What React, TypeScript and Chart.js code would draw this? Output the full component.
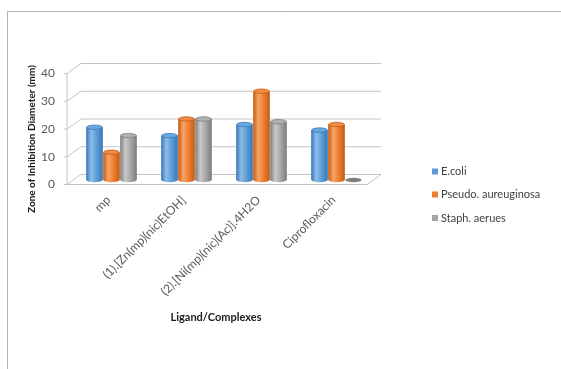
import { useEffect, useRef } from "react";
import { Chart, registerables } from "chart.js";

Chart.register(...registerables);

// ---- data ----
const categories = [
  "mp",
  "(1).[Zn(mp)(nic)EtOH]",
  "(2).[Ni(mp)(nic)(Ac)].4H2O",
  "Ciprofloxacin",
];
const seriesNames = ["E.coli", "Pseudo. aureuginosa", "Staph. aerues"];
const eColi = [19, 16, 20, 18];
const pseudo = [10, 22, 32, 20];
const staph = [16, 22, 21, 0];
const yTickValues = [0, 10, 20, 30, 40];
const xTitle = "Ligand/Complexes";
const yTitle = "Zone of Inhibition Diameter (mm)";

// ---- styling ----
const FONT = "Lato, 'Liberation Sans', sans-serif";
const GRID = "#c4c4c4";
// base, highlight, shade for each cylinder series
const palettes = [
  { base: "#5b9bd5", light: "#8dbdea", dark: "#3a78b5", top: "#6aa8e0" },
  { base: "#ed7d31", light: "#f7a467", dark: "#c45b14", top: "#f08b45" },
  { base: "#a5a5a5", light: "#c9c9c9", dark: "#7d7d7d", top: "#b2b2b2" },
];
// depth offsets of the front and back planes relative to the bar plane
const FRONT = { dx: -7, dy: 4.5 };
const BACK = { dx: 7, dy: -5.5 };

const wallsPlugin = {
  id: "walls3d",
  beforeDatasetsDraw(chart: any) {
    const { ctx, chartArea } = chart;
    const y = chart.scales.y;
    const { left, right } = chartArea;
    ctx.save();
    ctx.strokeStyle = GRID;
    ctx.lineWidth = 1;
    ctx.beginPath();
    for (const v of yTickValues) {
      const py = y.getPixelForValue(v);
      // back wall gridline
      ctx.moveTo(left + BACK.dx, py + BACK.dy);
      ctx.lineTo(right + BACK.dx, py + BACK.dy);
      // side wall connector
      ctx.moveTo(left + FRONT.dx - 3, py + FRONT.dy);
      ctx.lineTo(left + FRONT.dx, py + FRONT.dy);
      ctx.lineTo(left + BACK.dx, py + BACK.dy);
    }
    // front vertical axis
    const topY = y.getPixelForValue(40);
    const baseY = y.getPixelForValue(0);
    ctx.moveTo(left + FRONT.dx, topY + FRONT.dy);
    ctx.lineTo(left + FRONT.dx, baseY + FRONT.dy);
    // floor outline
    ctx.moveTo(left + FRONT.dx, baseY + FRONT.dy);
    ctx.lineTo(right + FRONT.dx, baseY + FRONT.dy);
    ctx.lineTo(right + BACK.dx, baseY + BACK.dy);
    ctx.stroke();
    ctx.restore();
  },
  afterDatasetsDraw(chart: any) {
    const { ctx } = chart;
    chart.data.datasets.forEach((ds: any, di: number) => {
      const meta = chart.getDatasetMeta(di);
      const p = palettes[di];
      meta.data.forEach((bar: any) => {
        const { x, y, base, width } = bar.getProps(["x", "y", "base", "width"], true);
        const l = x - width / 2;
        const rx = width / 2;
        const ry = 2.2;
        ctx.save();
        if (Math.abs(base - y) < 0.5) {
          // zero value: flat disc on the floor
          ctx.fillStyle = "#7f7f7f";
          ctx.beginPath();
          ctx.ellipse(x, base, rx, ry, 0, 0, Math.PI * 2);
          ctx.fill();
          ctx.restore();
          return;
        }
        const g = ctx.createLinearGradient(l, 0, l + width, 0);
        g.addColorStop(0, p.dark);
        g.addColorStop(0.3, p.light);
        g.addColorStop(0.65, p.base);
        g.addColorStop(1, p.dark);
        ctx.fillStyle = g;
        ctx.beginPath();
        ctx.moveTo(l, y);
        ctx.lineTo(l, base);
        ctx.ellipse(x, base, rx, ry, 0, Math.PI, 0, true);
        ctx.lineTo(l + width, y);
        ctx.closePath();
        ctx.fill();
        // top cap
        ctx.fillStyle = p.top;
        ctx.strokeStyle = p.dark;
        ctx.lineWidth = 0.8;
        ctx.beginPath();
        ctx.ellipse(x, y, rx - 0.3, ry, 0, 0, Math.PI * 2);
        ctx.fill();
        ctx.stroke();
        ctx.restore();
      });
    });
  },
};

const labelsPlugin = {
  id: "frameAndLabels",
  afterDraw(chart: any) {
    const { ctx } = chart;
    ctx.save();
    // chart frame
    ctx.strokeStyle = "#b3b3b3";
    ctx.lineWidth = 1;
    ctx.beginPath();
    ctx.moveTo(561, 11.5);
    ctx.lineTo(7.5, 11.5);
    ctx.lineTo(7.5, 369);
    ctx.stroke();

    // axis titles
    ctx.fillStyle = "#1a1a1a";
    ctx.font = `bold 11px ${FONT}`;
    ctx.textAlign = "center";
    ctx.textBaseline = "middle";
    ctx.fillText(xTitle, 216, 317);
    ctx.save();
    ctx.translate(32, 139);
    ctx.rotate(-Math.PI / 2);
    ctx.font = `bold 10px ${FONT}`;
    ctx.fillText(yTitle, 0, 0);
    ctx.restore();

    // legend
    const rows = [171.5, 194.5, 218];
    ctx.font = `11px ${FONT}`;
    ctx.textAlign = "left";
    chart.data.datasets.forEach((ds: any, i: number) => {
      ctx.fillStyle = palettes[i].base;
      ctx.fillRect(432, rows[i] - 3, 6, 6);
      ctx.fillStyle = "#404040";
      ctx.fillText(ds.label, 441, rows[i]);
    });
    ctx.restore();
  },
};

export default function App() {
  const ref = useRef<HTMLCanvasElement | null>(null);

  useEffect(() => {
    if (!ref.current) return;
    const series = [eColi, pseudo, staph];
    const chart = new Chart(ref.current, {
      type: "bar",
      data: {
        labels: categories,
        datasets: series.map((values, i) => ({
          label: seriesNames[i],
          data: values,
          backgroundColor: palettes[i].base,
          borderWidth: 0,
          barPercentage: 0.96,
          categoryPercentage: 0.68,
        })),
      },
      options: {
        responsive: false,
        animation: false,
        layout: { padding: { left: 21, right: 187, top: 69, bottom: 40 } },
        plugins: {
          legend: { display: false },
          tooltip: { enabled: false },
          title: { display: false },
        },
        scales: {
          x: {
            grid: { display: false, drawTicks: false },
            border: { display: false },
            ticks: {
              minRotation: 45,
              maxRotation: 45,
              labelOffset: -3,
              padding: 13,
              color: "#595959",
              font: { family: FONT, size: 12 },
            },
            afterFit: (s: any) => {
              s.height = 149;
            },
          },
          y: {
            min: 0,
            max: 40,
            grid: { display: false, drawTicks: false },
            border: { display: false },
            ticks: {
              stepSize: 10,
              labelOffset: 4.5,
              padding: 19,
              color: "#595959",
              font: { family: FONT, size: 12 },
            },
            afterFit: (s: any) => {
              s.width = 53;
            },
          },
        },
      },
      plugins: [wallsPlugin, labelsPlugin],
    });
    return () => chart.destroy();
  }, []);

  return (
    <div style={{ position: "absolute", left: 0, top: 0, width: 561, height: 369, background: "#fff" }}>
      <canvas ref={ref} width={561} height={369} style={{ display: "block" }} />
    </div>
  );
}
